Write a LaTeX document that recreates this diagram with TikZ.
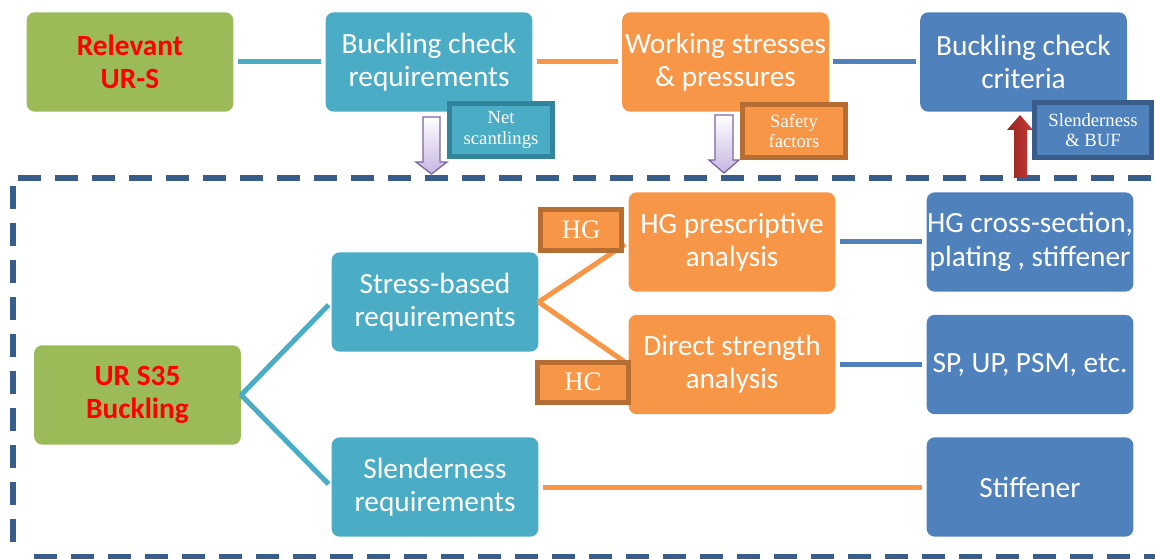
\documentclass[tikz,border=0pt]{standalone}
\usepackage{fontspec}
\setmainfont{Carlito}
\newfontfamily\tagfont{Liberation Serif}
\definecolor{boxgreen}{HTML}{9BBB59}
\definecolor{boxteal}{HTML}{4BACC6}
\definecolor{boxorange}{HTML}{F79646}
\definecolor{boxblue}{HTML}{4F81BD}
\definecolor{darkteal}{HTML}{31849B}
\definecolor{darkorange}{HTML}{B66D31}
\definecolor{darkblue}{HTML}{385D8A}
\definecolor{arrowpurple}{HTML}{8064A2}
\definecolor{arrowlilac}{HTML}{C6B6E0}
\definecolor{arrowred}{HTML}{C63C36}
\definecolor{arrowdarkred}{HTML}{96221E}

\begin{document}
\begin{tikzpicture}[x=0.75pt, y=-0.75pt,
    box/.style={rounded corners=6pt, minimum width=155pt, minimum height=74.5pt,
        inner sep=0pt, align=center, text=white, font=\fontsize{22}{25}\selectfont},
    greenbox/.style={box, fill=boxgreen, text=red, font=\fontsize{22}{25}\selectfont\bfseries},
    tealbox/.style={box, fill=boxteal},
    orangebox/.style={box, fill=boxorange},
    bluebox/.style={box, fill=boxblue},
    tag/.style={line width=3.75pt, inner sep=0pt, align=center, text=white,
        font=\tagfont\fontsize{14}{15.5}\selectfont},
    bigtag/.style={tag, font=\tagfont\fontsize{20}{22}\selectfont},
    link/.style={line width=3.75pt, shorten >=3pt, shorten <=3pt},
    frame/.style={draw=darkblue, line width=4.5pt, dash pattern=on 17.25pt off 10.5pt},
    blockdown/.style={draw=arrowpurple, line width=1pt, top color=white, bottom color=arrowlilac},
    blockup/.style={draw=none, left color=arrowdarkred, right color=arrowred},
]
    \useasboundingbox (0,0) rectangle (1155,559);

    % 1. Dashed frame
    \draw[frame] (18,178) -- (1160,178);
    \draw[frame] (13,186) -- (13,550);
    \draw[frame] (34,557) -- (1160,557);

    % 2. Top row
    \node[greenbox]  (relevant) at (130,62)    {Relevant\\UR-S};
    \node[tealbox]   (bcr)      at (429,62)    {Buckling check\\requirements};
    \node[orangebox] (wsp)      at (725.5,62)  {Working stresses\\\& pressures};
    \node[bluebox]   (bcc)      at (1023.5,62) {Buckling check\\criteria};

    \draw[link, boxteal]   (relevant) -- (bcr);
    \draw[link, boxorange] (bcr) -- (wsp);
    \draw[link, boxblue]   (wsp) -- (bcc);

    % 3. Block arrows and their tags
    \draw[blockdown] (423,117) -- (440,117) -- (440,162) -- (447,162) -- (431.5,174)
        -- (416,162) -- (423,162) -- cycle;
    \draw[blockdown] (715,115) -- (733,115) -- (733,160) -- (739,160) -- (724,173)
        -- (709,160) -- (715,160) -- cycle;
    \draw[blockup] (1014,178) -- (1027,178) -- (1027,130) -- (1033,130) -- (1020,115)
        -- (1007,130) -- (1014,130) -- cycle;

    \node[tag, fill=boxteal, draw=darkteal, minimum width=77pt, minimum height=40pt]
        (nettag) at (501,130) {Net\\scantlings};
    \node[tag, fill=boxorange, draw=darkorange, minimum width=77pt, minimum height=40pt]
        (safetytag) at (794,131) {Safety\\factors};
    \node[tag, fill=boxblue, draw=darkblue, minimum width=88pt, minimum height=41pt]
        (slendtag) at (1093,130) {Slenderness\\\& BUF};

    % 4. Lower part
    \node[greenbox]  (urs35)   at (137.5,395)   {UR S35\\Buckling};
    \node[tealbox]   (stress)  at (435,302)     {Stress-based\\requirements};
    \node[tealbox]   (slender) at (435,487)     {Slenderness\\requirements};
    \node[orangebox] (hgpa)    at (732,242)     {HG prescriptive\\analysis};
    \node[orangebox] (dsa)     at (732,364.5)   {Direct strength\\analysis};
    \node[bluebox]   (hgcs)    at (1030,242)    {HG cross-section,\\plating , stiffener};
    \node[bluebox]   (spup)    at (1030,364.5)  {SP, UP, PSM, etc.};
    \node[bluebox]   (stiff)   at (1030,487)    {Stiffener};

    \draw[link, boxteal, line join=bevel] (stress.west) -- (urs35.east) -- (slender.west);
    \draw[link, boxorange, line join=bevel] (hgpa.west) -- (stress.east) -- (dsa.west);
    \draw[link, boxblue]   (hgpa) -- (hgcs);
    \draw[link, boxblue]   (dsa) -- (spup);
    \draw[link, boxorange] (slender) -- (stiff);

    \node[bigtag, fill=boxorange, draw=darkorange, minimum width=61pt, minimum height=31pt]
        (hgtag) at (581,230) {HG};
    \node[bigtag, fill=boxorange, draw=darkorange, minimum width=68pt, minimum height=30pt]
        (hctag) at (583,382) {HC};
\end{tikzpicture}
\end{document}
